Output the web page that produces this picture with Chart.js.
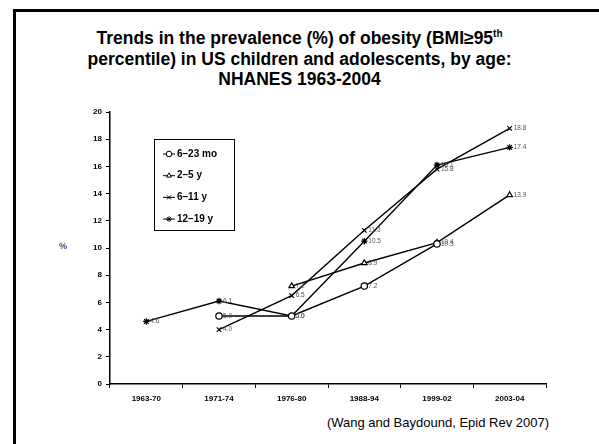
<!DOCTYPE html>
<html>
<head>
<meta charset="utf-8">
<script src="https://cdn.jsdelivr.net/npm/chart.js@4"></script>
<style>
  html, body { margin: 0; padding: 0; background: #fff; }
  body { width: 599px; height: 444px; position: relative; overflow: hidden; font-family: "Liberation Sans", Arial, sans-serif; }
  #frame { position: absolute; left: 13px; top: 9px; width: 700px; height: 500px; border-left: 3px solid #000; border-top: 3px solid #000; }
  #title { position: absolute; left: 0; width: 599px; top: 28px; text-align: center; font-weight: bold; font-size: 17.5px; line-height: 20.5px; color: #000; }
  #title sup { font-size: 10px; line-height: 0; vertical-align: 7px; }
  #ylab { position: absolute; left: 59px; top: 241px; font-size: 9px; color: #000; }
  #source { position: absolute; right: 50px; top: 415px; font-size: 13px; color: #000; }
  #wrap { position: absolute; left: 0; top: 0; width: 599px; height: 444px; }
</style>
</head>
<body>
<div id="frame"></div>
<div id="title">Trends in the prevalence (%) of obesity (BMI≥95<sup>th</sup><br>percentile) in US children and adolescents, by age:<br>NHANES 1963-2004</div>
<div id="ylab">%</div>
<div id="source">(Wang and Baydound, Epid Rev 2007)</div>
<div id="wrap"><canvas id="chart" width="599" height="444"></canvas></div>
<script>
const categories = ["1963-70", "1971-74", "1976-80", "1988-94", "1999-02", "2003-04"];
const seriesNames = ["6–23 mo", "2–5 y", "6–11 y", "12–19 y"];
const infants = [null, 5.0, 5.0, 7.2, 10.3, null];
const preschool = [null, null, 7.2, 8.9, 10.4, 13.9];
const schoolAge = [null, 4.0, 6.5, 11.3, 15.8, 18.8];
const teens = [4.6, 6.1, 5.0, 10.5, 16.1, 17.4];
const yMax = 20;
const yStep = 2;

const markers = ["circle", "triangle", "crossRot", "star"];
const values = [infants, preschool, schoolAge, teens];

// legend box drawn inside the plot, like the original slide
const boxLegend = {
  id: "boxLegend",
  afterDraw(chart) {
    const ctx = chart.ctx;
    const x0 = 154, y0 = 139, w = 80, h = 91;
    ctx.save();
    ctx.fillStyle = "#fff";
    ctx.fillRect(x0, y0, w, h);
    ctx.strokeStyle = "#000";
    ctx.lineWidth = 1;
    ctx.strokeRect(x0 + 0.5, y0 + 0.5, w, h);
    chart.data.datasets.forEach((ds, i) => {
      const y = 154 + i * 21.7;
      ctx.strokeStyle = "#000";
      ctx.lineWidth = 1;
      ctx.beginPath();
      ctx.moveTo(163, y);
      ctx.lineTo(175, y);
      ctx.stroke();
      ctx.fillStyle = "#fff";
      Chart.helpers.drawPoint(ctx, { pointStyle: ds.pointStyle, radius: 2.8, rotation: 0, borderWidth: 1 }, 169, y);
      ctx.fillStyle = "#000";
      ctx.font = "bold 10px 'Liberation Sans', Arial";
      ctx.textBaseline = "middle";
      ctx.textAlign = "left";
      ctx.fillText(ds.label, 177, y);
    });
    ctx.restore();
  }
};

const valueLabels = {
  id: "valueLabels",
  afterDatasetsDraw(chart) {
    const ctx = chart.ctx;
    ctx.save();
    ctx.font = "6.5px 'Liberation Sans', Arial";
    ctx.fillStyle = "#555";
    ctx.textBaseline = "middle";
    ctx.textAlign = "left";
    chart.data.datasets.forEach((ds, i) => {
      chart.getDatasetMeta(i).data.forEach((pt, j) => {
        const v = ds.data[j];
        if (v == null) return;
        ctx.fillText(v.toFixed(1), pt.x + 4, pt.y);
      });
    });
    ctx.restore();
  }
};

new Chart(document.getElementById("chart"), {
  type: "line",
  data: {
    labels: categories,
    datasets: seriesNames.map((name, i) => ({
      label: name,
      data: values[i],
      borderColor: "#000",
      borderWidth: 1.4,
      pointStyle: markers[i],
      pointRadius: 3.2,
      pointBorderColor: "#000",
      pointBackgroundColor: "#fff",
      pointBorderWidth: 1.2,
      tension: 0,
      spanGaps: false
    }))
  },
  options: {
    responsive: false,
    animation: false,
    layout: { padding: { left: 60, top: 112, right: 53, bottom: 30 } },
    plugins: { legend: { display: false }, tooltip: { enabled: false } },
    scales: {
      x: {
        offset: true,
        grid: { offset: true, drawOnChartArea: false, drawTicks: true, tickLength: 4, color: "#000", lineWidth: 1 },
        border: { color: "#000", width: 1.5 },
        ticks: { color: "#000", font: { family: "'Liberation Sans', Arial", size: 8, weight: "bold" }, padding: 6, maxRotation: 0 },
        afterFit(scale) { scale.height = 30; }
      },
      y: {
        min: 0,
        max: yMax,
        ticks: { stepSize: yStep, color: "#000", font: { family: "'Liberation Sans', Arial", size: 8, weight: "bold" }, padding: 4 },
        grid: { drawOnChartArea: false, drawTicks: true, tickLength: 4, color: "#000", lineWidth: 1 },
        border: { color: "#000", width: 1.5 },
        afterFit(scale) { scale.width = 50; }
      }
    }
  },
  plugins: [valueLabels, boxLegend]
});
</script>
</body>
</html>
